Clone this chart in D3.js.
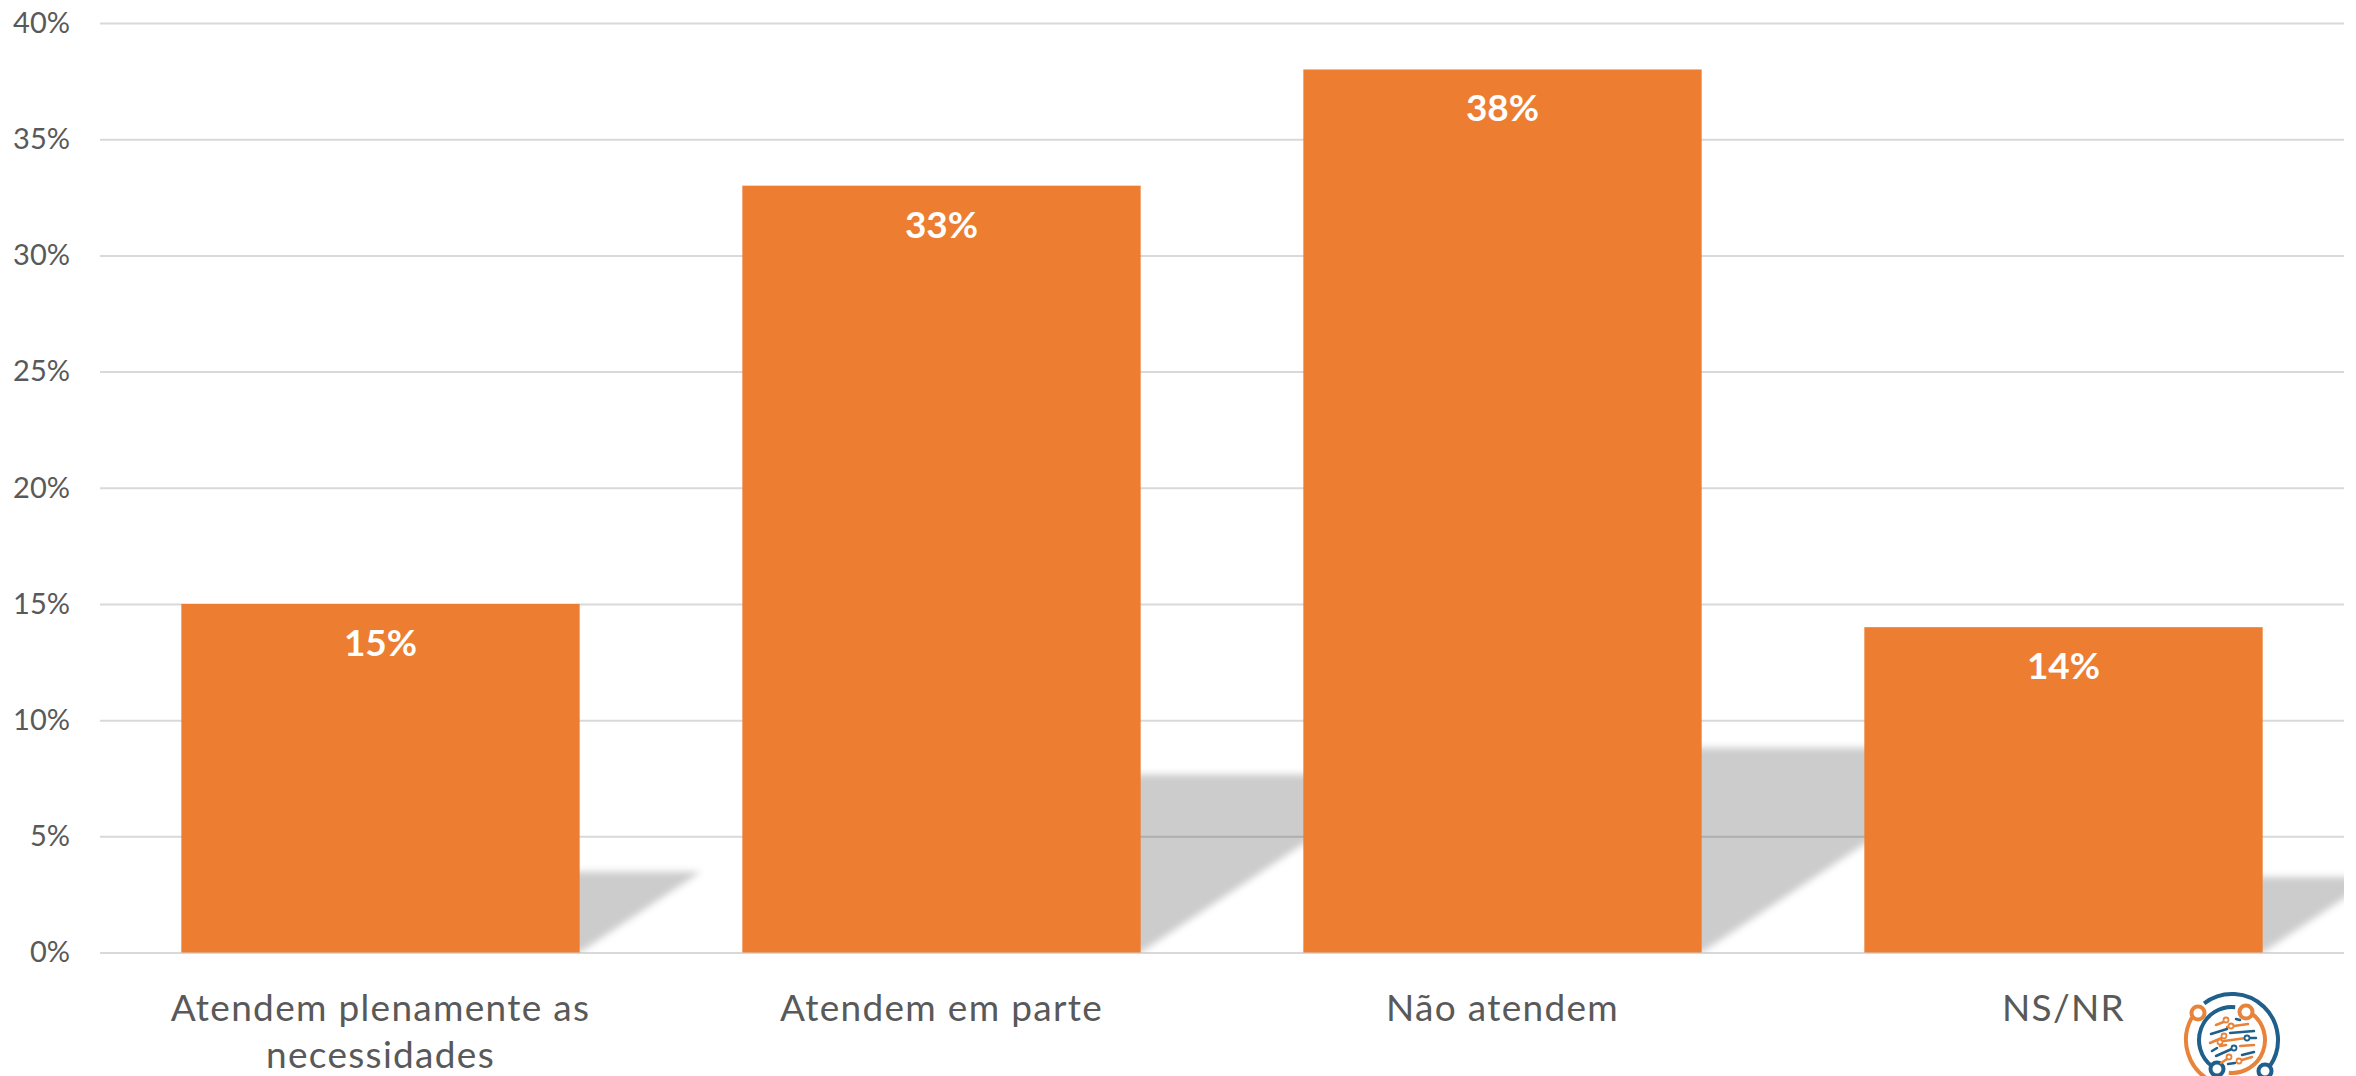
<!DOCTYPE html>
<html>
<head>
<meta charset="utf-8">
<script src="https://cdn.jsdelivr.net/npm/d3@7"></script>
<style>
  html, body { margin: 0; padding: 0; background: #fff; }
  svg { display: block; }
  text { font-family: Lato, "Open Sans", sans-serif; }
</style>
</head>
<body>
<svg id="chart"></svg>
<script>
const categories = ['Atendem plenamente as necessidades', 'Atendem em parte', 'Não atendem', 'NS/NR'];
const values = [15, 33, 38, 14];
const yTicks = [0, 5, 10, 15, 20, 25, 30, 35, 40];

const width = 2356;
const height = 1076;
const left = 100;
const right = 2344;
const top_ = 23;
const bottom = 952.5;

// the office-style cast shadow: squashed copy of the bar, leaning right
const shadowRatio = 0.232;
const shadowLean = 1.5;

var svg = d3.select('#chart').attr('width', width).attr('height', height);

var x = d3.scaleBand()
    .domain(categories)
    .range([left, right])
    .paddingInner(0.29)
    .paddingOuter(0.145);

var y = d3.scaleLinear().domain([0, 40]).range([bottom, top_]);

var defs = svg.append('defs');
defs.append('filter')
    .attr('id', 'blur')
    .attr('x', '-20%').attr('y', '-20%')
    .attr('width', '140%').attr('height', '140%')
  .append('feGaussianBlur')
    .attr('stdDeviation', 3.5);
defs.append('clipPath')
    .attr('id', 'plot-clip')
  .append('rect')
    .attr('x', left)
    .attr('y', top_)
    .attr('width', right - left)
    .attr('height', bottom - top_);

// gridlines + tick labels
var yAxis = svg.append('g')
    .attr('transform', 'translate(' + left + ',0)')
    .call(d3.axisLeft(y)
      .tickValues(yTicks)
      .tickSize(-(right - left))
      .tickPadding(30)
      .tickFormat(function(d) { return d + '%'; }));
yAxis.select('.domain').remove();
yAxis.selectAll('line').attr('stroke', '#d9d9d9').attr('stroke-width', 2);
yAxis.selectAll('text')
    .attr('fill', '#595959')
    .attr('font-size', 29)
    .attr('font-family', 'Lato');

// shadows go under every bar
svg.append('g')
    .attr('clip-path', 'url(#plot-clip)')
  .append('g')
    .selectAll('path')
    .data(categories)
    .enter().append('path')
    .attr('fill', '#000')
    .attr('fill-opacity', 0.2)
    .attr('filter', 'url(#blur)')
    .attr('d', function(d, i) {
      var h = (bottom - y(values[i])) * shadowRatio;
      var x0 = x(d);
      var x1 = x0 + x.bandwidth();
      var dx = h * shadowLean;
      return 'M' + x0 + ',' + bottom + 'L' + x1 + ',' + bottom +
        'L' + (x1 + dx) + ',' + (bottom - h) + 'L' + (x0 + dx) + ',' + (bottom - h) + 'Z';
    });

svg.append('g')
    .selectAll('rect')
    .data(categories)
    .enter().append('rect')
    .attr('x', function(d) { return x(d); })
    .attr('y', function(d, i) { return y(values[i]); })
    .attr('width', x.bandwidth())
    .attr('height', function(d, i) { return bottom - y(values[i]); })
    .attr('fill', '#ed7d31');

svg.append('g')
    .selectAll('text')
    .data(categories)
    .enter().append('text')
    .attr('x', function(d) { return x(d) + x.bandwidth() / 2; })
    .attr('y', function(d, i) { return y(values[i]) + 52; })
    .attr('text-anchor', 'middle')
    .attr('fill', '#fff')
    .attr('font-size', 37)
    .attr('font-weight', 700)
    .text(function(d, i) { return values[i] + '%'; });

// category labels, wrapped like the original
var xAxis = svg.append('g')
    .attr('transform', 'translate(0,' + bottom + ')')
    .call(d3.axisBottom(x).tickSize(0).tickPadding(0));
xAxis.select('.domain').remove();
xAxis.selectAll('text')
    .attr('fill', '#595959')
    .attr('font-size', 37)
    .attr('font-family', 'Lato')
    .attr('letter-spacing', 1.3)
    .each(wrapLabel);

function wrapLabel(d) {
  var label = d3.select(this);
  var words = d.split(' ');
  var maxWidth = 470;
  var lines = [];
  var line = [];
  label.text(null).attr('y', 0).attr('dy', null);
  var tspan = label.append('tspan');
  words.forEach(function(w) {
    line.push(w);
    tspan.text(line.join(' '));
    if (tspan.node().getComputedTextLength() > maxWidth && line.length > 1) {
      line.pop();
      lines.push(line.join(' '));
      line = [w];
    }
  });
  lines.push(line.join(' '));
  tspan.remove();
  lines.forEach(function(l, i) {
    label.append('tspan')
      .attr('x', 0)
      .attr('y', 68 + i * 47)
      .text(l);
  });
}

// small logo, bottom right (clipped by the page edge like the original)
var logo = svg.append('g')
    .attr('transform', 'translate(2232,1040)')
    .attr('fill', 'none')
    .attr('stroke-linecap', 'round');
var blue = '#1f5f8b';
var orange = '#e8833a';
function arcPath(r, a0, a1) {
  return d3.arc()({innerRadius: r, outerRadius: r, startAngle: a0, endAngle: a1});
}
logo.append('path').attr('d', arcPath(46, -0.65, 2.18)).attr('stroke', blue).attr('stroke-width', 4);
logo.append('path').attr('d', arcPath(46, 3.6, 5.22)).attr('stroke', orange).attr('stroke-width', 4);
logo.append('path').attr('d', arcPath(33, 0.63, 3.24)).attr('stroke', orange).attr('stroke-width', 4);
logo.append('path').attr('d', arcPath(33, 3.78, 6.38)).attr('stroke', blue).attr('stroke-width', 4);
[[-34, -27, orange], [14, -28, orange], [-15, 29, blue], [33, 31, blue]].forEach(function(c) {
  logo.append('circle').attr('cx', c[0]).attr('cy', c[1]).attr('r', 6.5).attr('fill', '#fff').attr('stroke', c[2]).attr('stroke-width', 4);
});
[[-16, -15, -6, -19, orange], [4, -21, 8, -20, blue], [-5, -13, 16, -16, orange], [-21, -6, -5, -11, blue],
 [-2, -7, 22, -9, blue], [-22, 3, -8, -3, orange], [-8, 1, 14, -2, orange], [16, -2, 24, -2, blue],
 [-20, 11, -15, 8, blue], [-16, 16, 2, 8, blue], [-12, 6, -6, 5, orange], [8, 6, 22, 5, orange],
 [10, 15, 22, 12, blue], [-11, 23, -2, 17, orange], [-4, 24, 3, 23, blue], [10, 20, 20, 17, orange]].forEach(function(s) {
  logo.append('line').attr('x1', s[0]).attr('y1', s[1]).attr('x2', s[2]).attr('y2', s[3]).attr('stroke', s[4]).attr('stroke-width', 2.5);
});
[[-6, -20, orange], [-1, -14, orange], [-8, -4, orange], [-12, 2, orange], [15, -2, blue], [2, 8, blue], [-3, 17, orange], [7, 21, orange]].forEach(function(c) {
  logo.append('circle').attr('cx', c[0]).attr('cy', c[1]).attr('r', 2.5).attr('fill', '#fff').attr('stroke', c[2]).attr('stroke-width', 1.8);
});
</script>
</body>
</html>
